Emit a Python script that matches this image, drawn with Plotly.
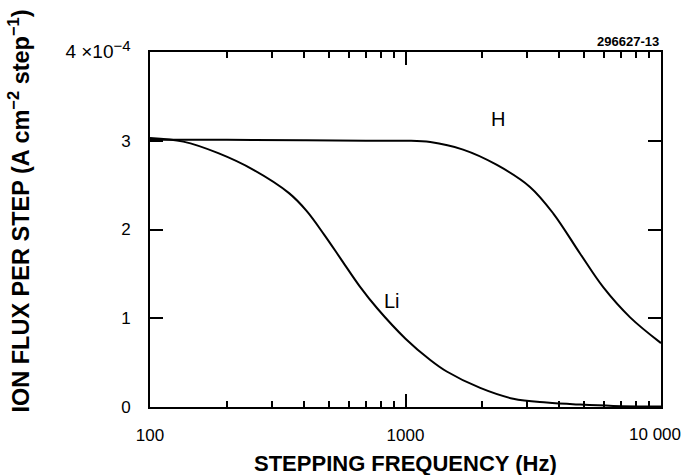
import plotly.graph_objects as go

# Stepping frequency (Hz) and ion flux per step (A cm^-2 step^-1)
h_freq = [100, 200, 400, 700, 1000, 1250, 1680, 2270, 3070, 3790, 4820, 5940, 7570, 10000]
h_flux = [3.01e-4, 3.01e-4, 3.005e-4, 3.0e-4, 3.0e-4, 2.985e-4, 2.90e-4, 2.73e-4, 2.48e-4,
          2.18e-4, 1.73e-4, 1.35e-4, 1.01e-4, 0.72e-4]

li_freq = [100, 135, 185, 255, 350, 410, 481, 564, 662, 776, 1000, 1250, 1450, 1960,
           2640, 3570, 4820, 6500, 10000]
li_flux = [3.03e-4, 2.99e-4, 2.86e-4, 2.67e-4, 2.41e-4, 2.21e-4, 1.94e-4, 1.65e-4, 1.36e-4,
           1.11e-4, 0.77e-4, 0.53e-4, 0.40e-4, 0.215e-4, 0.094e-4, 0.05e-4,
           0.027e-4, 0.012e-4, 0.005e-4]

x_tickvals = [100, 1000, 10000]
x_ticktext = ["100", "1000", ""]
x_last_label = "10 000"
x_minor = [200, 300, 400, 500, 600, 700, 800, 900, 2000, 3000, 4000, 5000, 6000, 7000, 8000, 9000]
y_tickvals = [0, 1e-4, 2e-4, 3e-4, 4e-4]
y_ticktext = ["0", "1", "2", "3",
              "<span style='font-size:19px'>4 ×10</span><sup><span style='font-size:15px'>−4</span></sup>"]

FONT = "Liberation Sans, Arial, Helvetica, sans-serif"

fig = go.Figure()
fig.add_trace(go.Scatter(x=h_freq, y=h_flux, mode="lines", name="H",
                         line=dict(color="black", width=2, shape="spline", smoothing=1.0)))
fig.add_trace(go.Scatter(x=li_freq, y=li_flux, mode="lines", name="Li",
                         line=dict(color="black", width=2, shape="spline", smoothing=1.0)))

fig.update_layout(
    width=683, height=475,
    margin=dict(l=150, r=22, t=52, b=68),
    paper_bgcolor="white", plot_bgcolor="white",
    showlegend=False,
    font=dict(family=FONT, size=17, color="black"),
    xaxis=dict(
        type="log", range=[2, 4],
        tickmode="array", tickvals=x_tickvals, ticktext=x_ticktext,
        ticks="inside", ticklen=13, tickwidth=1.5, tickcolor="black",
        minor=dict(tickvals=x_minor, ticks="inside", ticklen=6, tickwidth=1.5, tickcolor="black"),
        showline=True, linewidth=2, linecolor="black", mirror="allticks",
        showgrid=False, zeroline=False,
        ticklabelstandoff=12,
        tickfont=dict(size=17),
    ),
    yaxis=dict(
        range=[0, 4e-4],
        tickmode="array", tickvals=y_tickvals, ticktext=y_ticktext,
        ticks="inside", ticklen=13, tickwidth=1.5, tickcolor="black",
        showline=True, linewidth=2, linecolor="black", mirror="allticks",
        showgrid=False, zeroline=False,
        ticklabelstandoff=14,
        tickfont=dict(size=17),
    ),
)

annotations = [
    dict(text=x_last_label, x=1.0, y=0, xref="paper", yref="paper",
         xanchor="right", yanchor="top", xshift=22, yshift=-16, showarrow=False,
         font=dict(size=17)),
    dict(text="<b>STEPPING FREQUENCY (Hz)</b>", x=0.5, y=0, xref="paper", yref="paper",
         xanchor="center", yanchor="middle", yshift=-56, showarrow=False, font=dict(size=22)),
    dict(text="<b>ION FLUX PER STEP (A cm<sup>−2</sup> step<sup>−1</sup>)</b>",
         x=-0.256, y=0.551, xref="paper", yref="paper", textangle=-90,
         xanchor="center", yanchor="middle", showarrow=False, font=dict(size=23.5)),
    dict(text="<b>296627-13</b>", x=1.0, y=1.0, xref="paper", yref="paper",
         xanchor="right", yanchor="bottom", yshift=1, showarrow=False, font=dict(size=13)),
    dict(text="H", x=3.362, y=3.24e-4, xref="x", yref="y",
         xanchor="center", yanchor="middle", showarrow=False, font=dict(size=20)),
    dict(text="Li", x=2.908, y=1.2e-4, xref="x", yref="y",
         xanchor="left", yanchor="middle", showarrow=False, font=dict(size=20)),
]
fig.update_layout(annotations=annotations)

fig.write_html("out.html")
